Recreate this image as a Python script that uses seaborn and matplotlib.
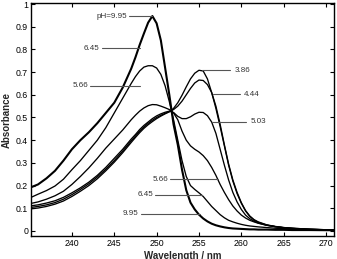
import numpy as np
import pandas as pd
import matplotlib
matplotlib.use("Agg")
import matplotlib.pyplot as plt
import seaborn as sns

# wavelength grid (nm)
wavelength = [235, 236, 237, 238, 239, 240, 241, 242, 243, 244, 245, 246, 247,
              247.5, 248, 248.5, 249, 249.5, 250, 250.5, 251, 251.5, 252, 252.5,
              253, 253.5, 254, 254.5, 255, 255.5, 256, 256.5, 257, 257.5, 258,
              258.5, 259, 259.5, 260, 260.5, 261, 261.5, 262, 263, 264, 265, 266,
              268, 271]

ph_995 = [0.19, 0.205, 0.232, 0.265, 0.31, 0.36, 0.40, 0.435, 0.475, 0.52, 0.565,
          0.632, 0.715, 0.765, 0.82, 0.87, 0.918, 0.947, 0.915, 0.84, 0.72, 0.60,
          0.47, 0.38, 0.27, 0.18, 0.125, 0.095, 0.072, 0.055, 0.042, 0.032, 0.025,
          0.02, 0.016, 0.013, 0.011, 0.01, 0.009, 0.008, 0.007, 0.007, 0.006,
          0.006, 0.005, 0.005, 0.004, 0.004, 0.003]

ph_645 = [0.145, 0.162, 0.178, 0.198, 0.228, 0.27, 0.31, 0.355, 0.40, 0.455, 0.52,
          0.585, 0.65, 0.68, 0.705, 0.722, 0.728, 0.728, 0.718, 0.69, 0.64, 0.57,
          0.49, 0.40, 0.31, 0.24, 0.20, 0.183, 0.168, 0.152, 0.13, 0.108, 0.09,
          0.072, 0.058, 0.047, 0.04, 0.034, 0.029, 0.025, 0.022, 0.02, 0.018,
          0.015, 0.012, 0.01, 0.008, 0.006, 0.004]

ph_566 = [0.12, 0.128, 0.14, 0.155, 0.175, 0.205, 0.24, 0.278, 0.32, 0.365, 0.405,
          0.445, 0.49, 0.51, 0.528, 0.542, 0.552, 0.557, 0.556, 0.55, 0.543, 0.535,
          0.52, 0.49, 0.44, 0.40, 0.375, 0.36, 0.348, 0.332, 0.31, 0.28, 0.245,
          0.205, 0.17, 0.138, 0.11, 0.088, 0.07, 0.057, 0.047, 0.04, 0.034, 0.025,
          0.019, 0.015, 0.012, 0.008, 0.004]

ph_503 = [0.11, 0.115, 0.123, 0.133, 0.148, 0.168, 0.19, 0.215, 0.245, 0.28, 0.32,
          0.36, 0.405, 0.425, 0.447, 0.465, 0.48, 0.495, 0.507, 0.516, 0.523, 0.528,
          0.522, 0.505, 0.495, 0.495, 0.503, 0.515, 0.523, 0.522, 0.508, 0.48, 0.43,
          0.36, 0.29, 0.225, 0.17, 0.128, 0.095, 0.07, 0.054, 0.043, 0.035, 0.025,
          0.019, 0.014, 0.011, 0.007, 0.004]

ph_444 = [0.103, 0.108, 0.115, 0.125, 0.14, 0.16, 0.183, 0.208, 0.238, 0.272, 0.31,
          0.352, 0.397, 0.418, 0.44, 0.458, 0.474, 0.488, 0.50, 0.51, 0.518, 0.526,
          0.535, 0.55, 0.572, 0.60, 0.628, 0.652, 0.665, 0.663, 0.645, 0.61, 0.55,
          0.47, 0.38, 0.295, 0.225, 0.17, 0.125, 0.09, 0.066, 0.05, 0.04, 0.027,
          0.02, 0.015, 0.012, 0.008, 0.004]

ph_386 = [0.097, 0.101, 0.108, 0.118, 0.132, 0.152, 0.175, 0.20, 0.23, 0.265, 0.303,
          0.345, 0.39, 0.412, 0.433, 0.452, 0.468, 0.482, 0.495, 0.506, 0.516, 0.525,
          0.54, 0.565, 0.598, 0.635, 0.67, 0.695, 0.708, 0.705, 0.67, 0.61, 0.54,
          0.46, 0.375, 0.29, 0.22, 0.165, 0.122, 0.088, 0.064, 0.048, 0.038, 0.026,
          0.019, 0.014, 0.011, 0.007, 0.004]

series = {"9.95": ph_995, "6.45": ph_645, "5.66": ph_566,
          "5.03": ph_503, "4.44": ph_444, "3.86": ph_386}

# label text, leader line start/end (nm), height, text side
labels = [
    ("pH=9.95", 246.7, 249.4, 0.947, "left"),
    ("6.45", 243.5, 248.0, 0.805, "left"),
    ("5.66", 242.1, 248.0, 0.639, "left"),
    ("3.86", 255.4, 258.7, 0.709, "right"),
    ("4.44", 256.7, 259.8, 0.602, "right"),
    ("5.03", 256.5, 260.6, 0.481, "right"),
    ("5.66", 251.6, 257.2, 0.228, "left"),
    ("6.45", 249.8, 255.3, 0.159, "left"),
    ("9.95", 248.1, 255.1, 0.075, "left"),
]

rows = []
for ph, vals in series.items():
    for w, a in zip(wavelength, vals):
        rows.append((ph, w, a))
df = pd.DataFrame(rows, columns=["pH", "Wavelength", "Absorbance"])

sns.set_style("ticks")
plt.rcParams["font.family"] = ["Liberation Sans", "DejaVu Sans"]

fig = plt.figure(figsize=(3.37, 2.59), dpi=100)
ax = fig.add_axes([0.092, 0.089, 0.899, 0.899])

for ph in series:
    lw = 1.5 if ph == "9.95" else 0.95
    sns.lineplot(data=df[df["pH"] == ph], x="Wavelength", y="Absorbance",
                 color="black", lw=lw, ax=ax, legend=False)

for txt, x0, x1, y, side in labels:
    ax.plot([x0, x1], [y, y], color="#555555", lw=0.8)
    if side == "left":
        ax.text(x0 - 0.2, y, txt, ha="right", va="center", fontsize=5.8, color="#333333")
    else:
        ax.text(x1 + 0.5, y, txt, ha="left", va="center", fontsize=5.8, color="#333333")

ax.set_xlim(235.17, 270.94)
ax.set_ylim(-0.022, 1.004)
ax.set_xticks([240, 245, 250, 255, 260, 265, 270])
ax.set_yticks(np.arange(0, 1.01, 0.1))
ax.set_yticklabels(["0", "0.1", "0.2", "0.3", "0.4", "0.5", "0.6", "0.7", "0.8", "0.9", "1"])
ax.tick_params(direction="in", length=3, width=0.8, labelsize=6.3, colors="black",
               top=True, right=True, pad=2)
for s in ax.spines.values():
    s.set_linewidth(1.0)
    s.set_color("black")

ax.set_xlabel("Wavelength / nm", fontsize=7, fontweight="bold", labelpad=2)
ax.set_ylabel("Absorbance", fontsize=7, fontweight="bold", labelpad=3)

fig.savefig("out.png", dpi=100)
